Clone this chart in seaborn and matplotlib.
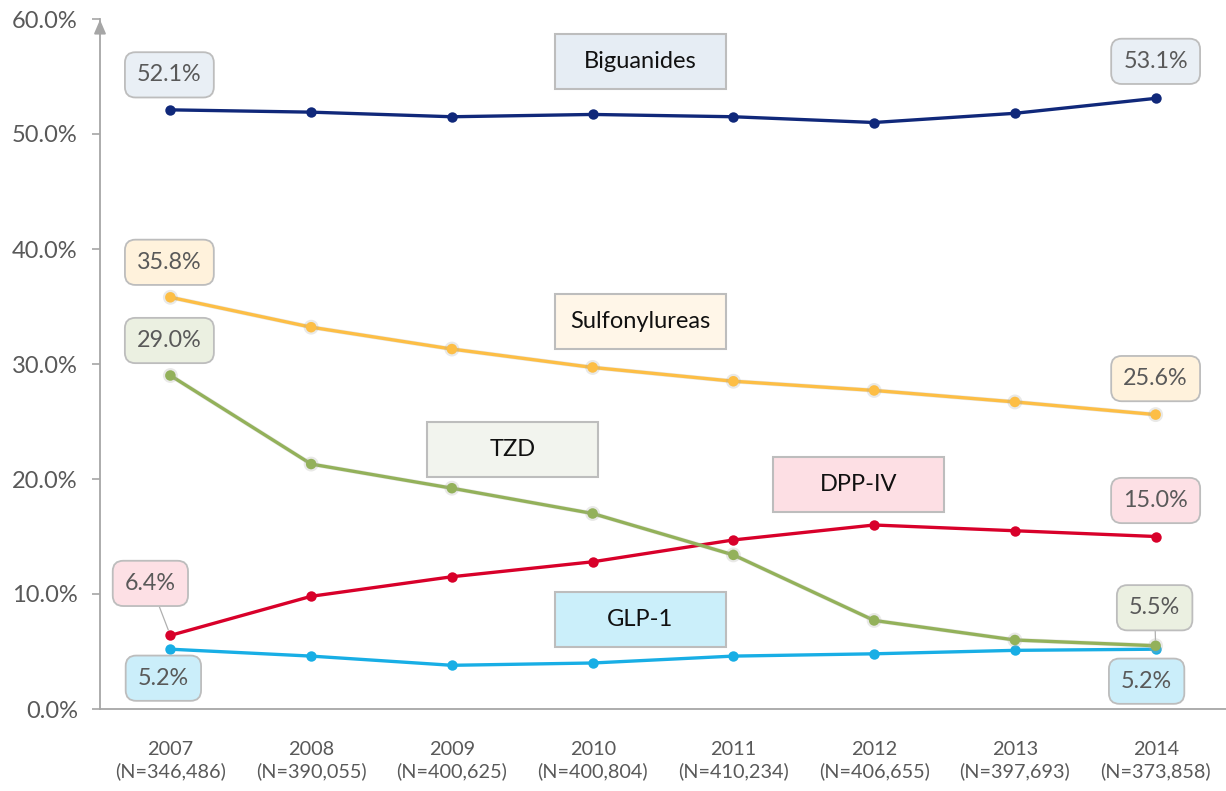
import matplotlib
matplotlib.use("Agg")
import matplotlib.pyplot as plt
import matplotlib.patheffects as pe
from matplotlib.patches import Rectangle
import seaborn as sns
import pandas as pd

years = ["2007", "2008", "2009", "2010", "2011", "2012", "2013", "2014"]
sample_sizes = ["346,486", "390,055", "400,625", "400,804", "410,234", "406,655", "397,693", "373,858"]

biguanides = [52.1, 51.9, 51.5, 51.7, 51.5, 51.0, 51.8, 53.1]
sulfonylureas = [35.8, 33.2, 31.3, 29.7, 28.5, 27.7, 26.7, 25.6]
tzd = [29.0, 21.3, 19.2, 17.0, 13.4, 7.7, 6.0, 5.5]
dpp4 = [6.4, 9.8, 11.5, 12.8, 14.7, 16.0, 15.5, 15.0]
glp1 = [5.2, 4.6, 3.8, 4.0, 4.6, 4.8, 5.1, 5.2]

classes = ["Biguanides", "Sulfonylureas", "TZD", "DPP-IV", "GLP-1"]
series = [biguanides, sulfonylureas, tzd, dpp4, glp1]

line_colors = {"Biguanides": "#10287A", "Sulfonylureas": "#FDBE45", "TZD": "#93B15A",
               "DPP-IV": "#D8002A", "GLP-1": "#18AEE5"}
label_fill = {"Biguanides": "#E9EFF5", "Sulfonylureas": "#FFF2DC", "TZD": "#EBF0E1",
              "DPP-IV": "#FDE0E5", "GLP-1": "#CBEEFA"}
name_fill = {"Biguanides": "#E6EDF4", "Sulfonylureas": "#FFF6E8", "TZD": "#F2F4EE",
             "DPP-IV": "#FDDFE4", "GLP-1": "#CBEFFA"}

rows = []
for name, vals in zip(classes, series):
    for i, v in enumerate(vals):
        rows.append({"idx": i, "value": v, "class": name})
df = pd.DataFrame(rows)

sns.set_theme(style="white")
plt.rcParams["font.family"] = ["Lato", "DejaVu Sans"]

fig = plt.figure(figsize=(12.26, 7.91), dpi=100)
ax = fig.add_axes([100 / 1226, 1 - 709 / 791, 1 - 100 / 1226, (709 - 19) / 791])

draw_order = ["GLP-1", "DPP-IV", "TZD", "Sulfonylureas", "Biguanides"]
for name in draw_order:
    sub = df[df["class"] == name]
    sns.lineplot(data=sub, x="idx", y="value", color=line_colors[name], marker="o",
                 markersize=7.5, markeredgewidth=0, linewidth=2.4, legend=False,
                 sort=False, ax=ax)
for ln in ax.lines:
    c = ln.get_color()
    if c.lower() in ("#fdbe45", "#93b15a"):
        ln.set_path_effects([pe.Stroke(linewidth=3.2, foreground="#A8A8A0", alpha=0.25), pe.Normal()])

ax.set_xlim(-0.5, 7.5)
ax.set_ylim(0, 60)
ax.set_yticks([0, 10, 20, 30, 40, 50, 60])
ax.set_yticklabels([f"{t:.1f}%" for t in [0, 10, 20, 30, 40, 50, 60]])
ax.set_xticks(range(len(years)))
ax.set_xticklabels([f"{y}\n(N={n})" for y, n in zip(years, sample_sizes)], linespacing=1.3)
ax.set_xlabel("")
ax.set_ylabel("")

for s in ["top", "right"]:
    ax.spines[s].set_visible(False)
for s in ["left", "bottom"]:
    ax.spines[s].set_color("#A6A6A6")
    ax.spines[s].set_linewidth(1.3)
ax.tick_params(axis="y", which="major", left=True, length=6, width=1.2, color="#A6A6A6",
               labelsize=17, labelcolor="#595959", pad=10)
ax.tick_params(axis="x", which="major", bottom=False, labelsize=14.3, labelcolor="#595959", pad=17)
ax.grid(False)

# arrowhead on y axis
ax.annotate("", xy=(0, 1.003), xycoords="axes fraction", xytext=(0, 0.975),
            arrowprops=dict(arrowstyle="-|>,head_length=0.7,head_width=0.3", color="#A6A6A6", lw=1.3),
            annotation_clip=False)

# value labels: (class, index, offset_x_px, offset_y_px, leader)
value_labels = [
    ("Biguanides", 0, -1, 35, False), ("Biguanides", 7, 0, 37, False),
    ("Sulfonylureas", 0, -1, 35, False), ("Sulfonylureas", 7, 0, 36, False),
    ("TZD", 0, -1, 35, False), ("TZD", 7, -1, 38, True),
    ("DPP-IV", 0, -20, 52, True), ("DPP-IV", 7, 0, 36, False),
    ("GLP-1", 0, -7, -29, False), ("GLP-1", 7, -9, -32, False),
]
lookup = dict(zip(classes, series))
for name, i, dx, dy, leader in value_labels:
    v = lookup[name][i]
    arrow = dict(arrowstyle="-", color="#B0B0B0", lw=0.9, shrinkA=0, shrinkB=4) if leader else None
    ax.annotate(f"{v:.1f}%", xy=(i, v), xytext=(dx, dy), textcoords="offset pixels",
                ha="center", va="center", fontsize=16.8, color="#595959",
                bbox=dict(boxstyle="round,pad=0.52,rounding_size=0.45", fc=label_fill[name],
                          ec="#BDBDBD", lw=1.3),
                arrowprops=arrow, annotation_clip=False, zorder=5)

# series name boxes (center x in category units, center y in %)
name_pos = {"Biguanides": (3.34, 56.3), "Sulfonylureas": (3.34, 33.7), "TZD": (2.43, 22.6),
            "DPP-IV": (4.89, 19.5), "GLP-1": (3.34, 7.8)}
bw, bh = 1.215, 4.8
for name, (cx, cy) in name_pos.items():
    ax.add_patch(Rectangle((cx - bw / 2, cy - bh / 2), bw, bh, facecolor=name_fill[name],
                           edgecolor="#BDBDBD", lw=1.5, zorder=4))
    ax.text(cx, cy, name, ha="center", va="center", fontsize=17, color="#111111", zorder=6)

fig.savefig("out.png", dpi=100)
